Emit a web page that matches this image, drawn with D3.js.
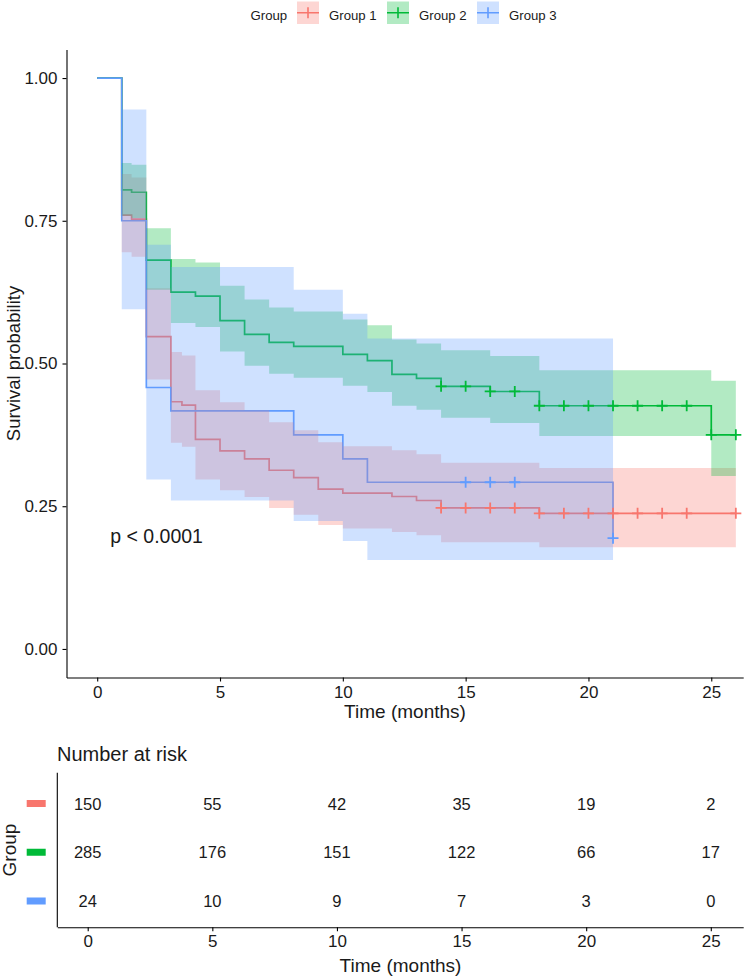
<!DOCTYPE html>
<html><head><meta charset="utf-8">
<script src="https://cdn.jsdelivr.net/npm/d3@7"></script>
<style>
body{margin:0;background:#fff}
svg{display:block;font-family:"Liberation Sans",Arial,Helvetica,sans-serif}
</style>
</head><body>
<script>
// ---------------- data ----------------
const groups = ["Group 1", "Group 2", "Group 3"];
const colors = ["#F8766D", "#00BA38", "#619CFF"];

// Group 1
const time1  = [0, 1, 1.4, 2, 3, 3.45, 4, 5, 6, 7, 8, 9, 10, 12, 13, 14, 18, 26];
const surv1  = [1, 0.76, 0.753, 0.547, 0.433, 0.427, 0.367, 0.347, 0.333, 0.313, 0.300, 0.280, 0.273, 0.267, 0.260, 0.247, 0.2375, 0.2375];
const lower1 = [1, 0.695, 0.687, 0.472, 0.361, 0.354, 0.297, 0.278, 0.266, 0.247, 0.235, 0.217, 0.211, 0.205, 0.199, 0.187, 0.178, 0.178];
const upper1 = [1, 0.832, 0.826, 0.632, 0.520, 0.514, 0.453, 0.432, 0.418, 0.397, 0.383, 0.362, 0.355, 0.348, 0.341, 0.326, 0.317, 0.317];
const censor1 = [14, 15, 16, 17, 18, 19, 20, 21, 22, 23, 24, 26];

// Group 2
const time2  = [0, 1, 1.4, 2, 3, 4, 5, 6, 7, 8, 10, 11, 12, 13, 14, 16, 18, 25, 26];
const surv2  = [1, 0.804, 0.800, 0.681, 0.625, 0.618, 0.575, 0.551, 0.537, 0.530, 0.516, 0.505, 0.481, 0.474, 0.460, 0.451, 0.426, 0.375, 0.375];
const lower2 = [1, 0.759, 0.755, 0.629, 0.571, 0.564, 0.521, 0.496, 0.482, 0.475, 0.461, 0.450, 0.426, 0.419, 0.405, 0.396, 0.373, 0.303, 0.303];
const upper2 = [1, 0.851, 0.848, 0.737, 0.683, 0.677, 0.636, 0.612, 0.598, 0.591, 0.577, 0.567, 0.542, 0.535, 0.523, 0.513, 0.488, 0.470, 0.470];
const censor2 = [14, 15, 16, 17, 18, 19, 20, 21, 22, 23, 24, 25, 26];

// Group 3
const time3  = [0, 1, 2, 3, 8, 10, 11, 21];
const surv3  = [1, 0.75, 0.458, 0.417, 0.375, 0.333, 0.292, 0.194];
const lower3 = [1, 0.595, 0.297, 0.260, 0.224, 0.189, 0.156, 0.156];
const upper3 = [1, 0.945, 0.708, 0.669, 0.629, 0.587, 0.544, 0.544];
const censor3 = [15, 16, 17, 21];

// Number at risk
const riskTimes = [0, 5, 10, 15, 20, 25];
const risk1 = [150, 55, 42, 35, 19, 2];
const risk2 = [285, 176, 151, 122, 66, 17];
const risk3 = [24, 10, 9, 7, 3, 0];

const xTicks = [0, 5, 10, 15, 20, 25];
const yTicks = [0, 0.25, 0.5, 0.75, 1];
const pText = "p < 0.0001";

// ---------------- build ----------------
const series = [
  {time: time1, surv: surv1, lower: lower1, upper: upper1, censor: censor1},
  {time: time2, surv: surv2, lower: lower2, upper: upper2, censor: censor2},
  {time: time3, surv: surv3, lower: lower3, upper: upper3, censor: censor3}
].map((s, i) => ({
  name: groups[i], color: colors[i],
  pts: s.time.map((t, j) => ({t, s: s.surv[j], lo: s.lower[j], hi: s.upper[j]})),
  censor: s.censor
}));
const risks = [risk1, risk2, risk3];

const W = 744, H = 979;
const svg = d3.select("body").append("svg").attr("width", W).attr("height", H);

const x = d3.scaleLinear().domain([-1.25, 26.3]).range([66.5, 743.2]);
const y = d3.scaleLinear().domain([-0.05, 1.05]).range([677.5, 49.5]);

const textCol = "#1a1a1a";

// step lines (under ribbons, as in survminer)
const line = d3.line().x(d => x(d.t)).y(d => y(d.s)).curve(d3.curveStepAfter);
const area = d3.area().x(d => x(d.t)).y0(d => y(d.lo)).y1(d => y(d.hi)).curve(d3.curveStepAfter);

const plot = svg.append("g");
series.forEach(s => {
  plot.append("path").attr("d", line(s.pts)).attr("fill", "none")
    .attr("stroke", s.color).attr("stroke-width", 1.7);
});
series.forEach(s => {
  plot.append("path").attr("d", area(s.pts.slice(1))).attr("fill", s.color)
    .attr("fill-opacity", 0.3).attr("stroke", "none");
});
// censor marks
function survAt(s, t) {
  let v = 1;
  s.pts.forEach(p => { if (p.t <= t) v = p.s; });
  return v;
}
const cs = 5.5;
series.forEach(s => {
  s.censor.forEach(t => {
    const cx = x(t), cy = y(survAt(s, t));
    plot.append("path")
      .attr("d", `M${cx - cs},${cy}H${cx + cs}M${cx},${cy - cs}V${cy + cs}`)
      .attr("stroke", s.color).attr("stroke-width", 1.8).attr("fill", "none");
  });
});

// axes
const axStyle = g => {
  g.selectAll(".domain").attr("stroke", "#000").attr("stroke-width", 1.1);
  g.selectAll(".tick line").attr("stroke", "#000").attr("stroke-width", 1.1);
  g.selectAll(".tick text").attr("fill", textCol).attr("font-size", 17)
    .attr("font-family", '"Liberation Sans",Arial,sans-serif');
};
svg.append("g").attr("transform", `translate(66.5,0)`)
  .call(d3.axisLeft(y).tickValues(yTicks).tickFormat(d3.format(".2f")).tickSize(4).tickPadding(5).tickSizeOuter(0))
  .call(axStyle);
svg.append("g").attr("transform", `translate(0,677.5)`)
  .call(d3.axisBottom(x).tickValues(xTicks).tickFormat(d3.format("d")).tickSize(4).tickPadding(4).tickSizeOuter(0))
  .call(axStyle);

svg.append("text").attr("x", 405).attr("y", 718).attr("text-anchor", "middle")
  .attr("font-size", 19).attr("fill", textCol).text("Time (months)");
svg.append("text").attr("transform", "translate(20,363.5) rotate(-90)").attr("text-anchor", "middle")
  .attr("font-size", 18.5).attr("fill", textCol).text("Survival probability");

svg.append("text").attr("x", x(0.53)).attr("y", 543).attr("font-size", 19.5)
  .attr("fill", textCol).text(pText);

// legend
const leg = svg.append("g");
leg.append("text").attr("x", 250.5).attr("y", 19.5).attr("font-size", 13.2).attr("fill", textCol).text("Group");
const keyX = [297, 387, 477];
series.forEach((s, i) => {
  const kx = keyX[i];
  leg.append("rect").attr("x", kx).attr("y", 1.5).attr("width", 22).attr("height", 22.5)
    .attr("fill", s.color).attr("fill-opacity", 0.3);
  leg.append("path").attr("d", `M${kx},12.7H${kx + 22}M${kx + 11},7.2V18.2`)
    .attr("stroke", s.color).attr("stroke-width", 1.6);
  leg.append("text").attr("x", kx + 32).attr("y", 19.5).attr("font-size", 13.2)
    .attr("fill", textCol).text(s.name);
});

// ---------------- risk table ----------------
const xt = d3.scaleLinear().domain([-1.22, 26.3]).range([57.3, 743.2]);
const yt = d3.scalePoint().domain(groups).range([803.5, 901]);

svg.append("text").attr("x", 57).attr("y", 760.5).attr("font-size", 20)
  .attr("fill", textCol).text("Number at risk");

svg.append("line").attr("x1", 57.3).attr("x2", 57.3).attr("y1", 772.7).attr("y2", 927.3)
  .attr("stroke", "#000").attr("stroke-width", 1.1);
svg.append("g").attr("transform", `translate(0,927.3)`)
  .call(d3.axisBottom(xt).tickValues(xTicks).tickFormat(d3.format("d")).tickSize(4).tickPadding(4).tickSizeOuter(0))
  .call(axStyle);

groups.forEach((g, i) => {
  svg.append("rect").attr("x", 26.7).attr("y", yt(g) - 3.5).attr("width", 19).attr("height", 7)
    .attr("fill", colors[i]);
  riskTimes.forEach((t, j) => {
    svg.append("text").attr("x", xt(t)).attr("y", yt(g) + 6).attr("text-anchor", "middle")
      .attr("font-size", 16.5).attr("fill", textCol).text(risks[i][j]);
  });
});
svg.append("text").attr("transform", "translate(16,850) rotate(-90)").attr("text-anchor", "middle")
  .attr("font-size", 19).attr("fill", textCol).text("Group");
svg.append("text").attr("x", 400.5).attr("y", 972).attr("text-anchor", "middle")
  .attr("font-size", 19).attr("fill", textCol).text("Time (months)");
</script>
</body></html>
